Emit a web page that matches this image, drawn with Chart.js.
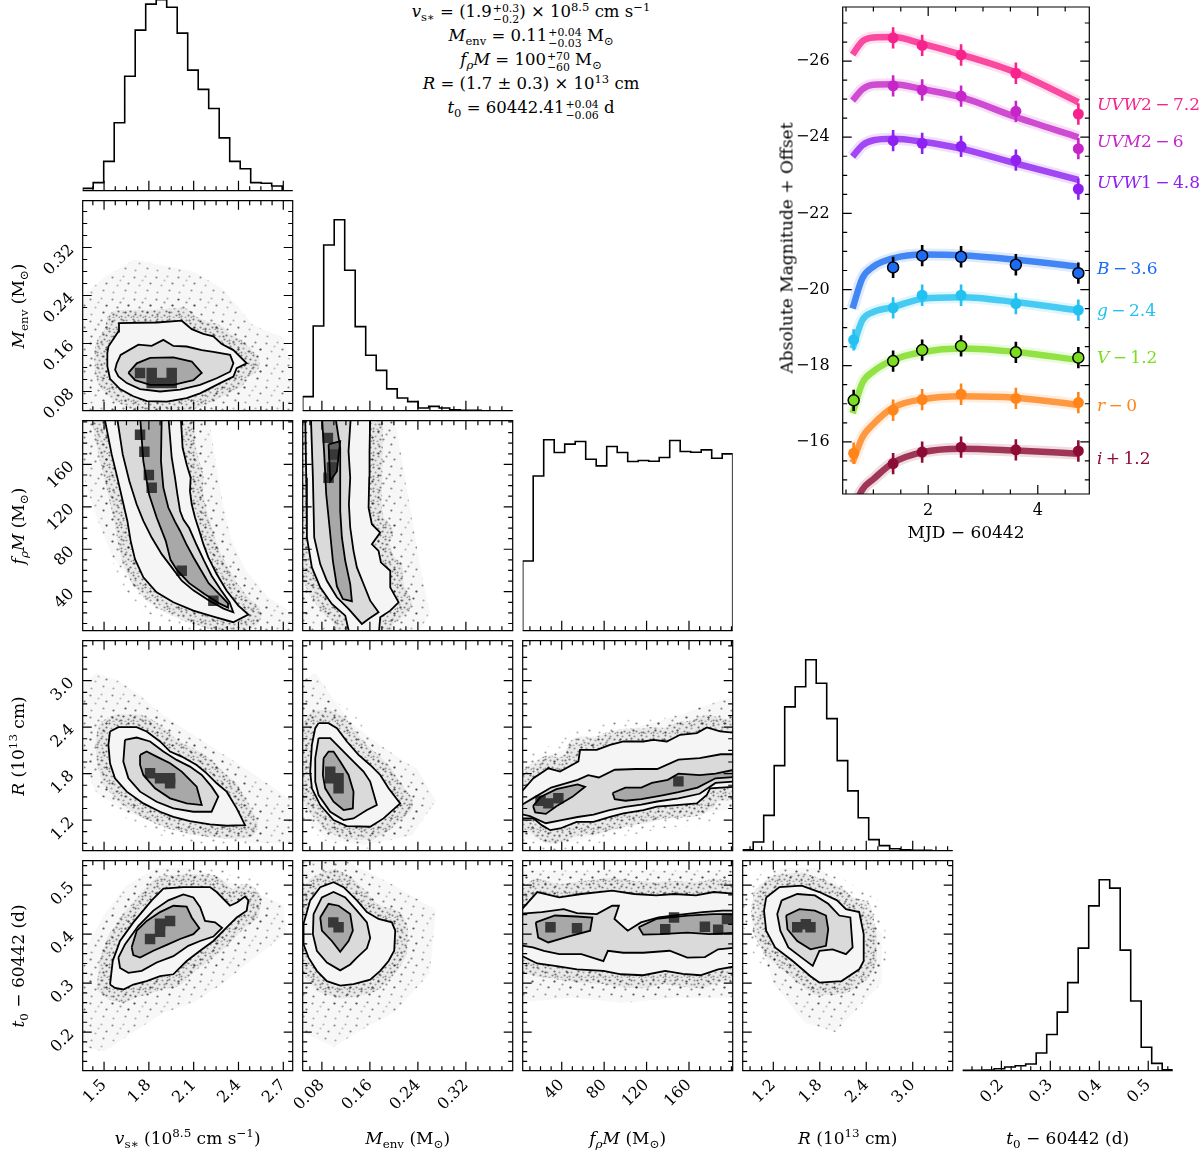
<!DOCTYPE html>
<html>
<head>
<meta charset="utf-8">
<title>Corner plot</title>
<script src="https://cdn.jsdelivr.net/npm/chart.js@4.4.1/dist/chart.umd.min.js"></script>
<style>
  html, body { margin: 0; padding: 0; background: #fff; }
  body { position: relative; width: 1200px; height: 1151px; overflow: hidden; font-family: 'DejaVu Serif', serif; color: #000; }
  canvas { position: absolute; }
  .lab { position: absolute; white-space: nowrap; font-size: 17px; line-height: 1; transform: translate(-50%, -50%); }
  .rot { transform: translate(-50%, -50%) rotate(-90deg); }
  sub, sup { font-size: 0.7em; line-height: 0; }
  .band { position: absolute; left: 1097px; font-size: 17px; white-space: nowrap; transform: translateY(-50%); line-height: 1; }
  .stats { position: absolute; left: 531px; top: 0; transform: translateX(-50%); text-align: center; font-size: 16.5px; }
  .stats div { height: 24px; line-height: 24px; white-space: nowrap; }
  .err { display: inline-flex; flex-direction: column; font-size: 0.66em; line-height: 1; vertical-align: 5px; margin-left: 1px; text-align: left; }
</style>
</head>
<body>
<div class="stats">
  <div><i>v</i><sub>s∗</sub> = (1.9<span class="err"><span>+0.3</span><span>−0.2</span></span>) × 10<sup>8.5</sup> cm s<sup>−1</sup></div>
  <div><i>M</i><sub>env</sub> = 0.11<span class="err"><span>+0.04</span><span>−0.03</span></span> M<sub>⊙</sub></div>
  <div><i>f</i><sub><i>ρ</i></sub><i>M</i> = 100<span class="err"><span>+70</span><span>−60</span></span> M<sub>⊙</sub></div>
  <div><i>R</i> = (1.7 ± 0.3) × 10<sup>13</sup> cm</div>
  <div><i>t</i><sub>0</sub> = 60442.41<span class="err"><span>+0.04</span><span>−0.06</span></span> d</div>
</div>
<script>
// ---------------- parameter ranges and ticks ----------------
const vRange = [1.357, 2.763];
const mRange = [0.048, 0.398];
const fRange = [3.2, 201.2];
const rRange = [0.805, 3.516];
const tRange = [0.121, 0.55];

const vTicks = [1.5, 1.8, 2.1, 2.4, 2.7];
const mTicks = [0.08, 0.16, 0.24, 0.32];
const fTicks = [40, 80, 120, 160];
const rTicks = [1.2, 1.8, 2.4, 3.0];
const tTicks = [0.2, 0.3, 0.4, 0.5];

// ---------------- 1D histograms (20 bins over each range) ----------------
const vHist = [7, 24, 87, 202, 340, 477, 554, 567, 545, 468, 358, 301, 244, 157, 87, 65, 24, 22, 14, 0];
const mHist = [42, 252, 493, 568, 418, 250, 165, 120, 65, 38, 27, 8, 13, 8, 3, 1, 1, 0, 0, 0];
const fHist = [208, 462, 570, 532, 557, 565, 512, 492, 550, 532, 505, 508, 506, 517, 568, 535, 533, 540, 515, 528];
const rHist = [3, 26, 105, 253, 428, 488, 568, 498, 393, 268, 178, 98, 33, 15, 6, 3, 1, 1, 0, 0];
const tHist = [1, 1, 2, 6, 11, 15, 20, 53, 108, 175, 263, 366, 492, 570, 545, 360, 208, 70, 22, 3];

// ---------------- 2D panels: sample cloud, contours, densest cells ----------------
// v_s* vs M_env
const vmHalo = [[1.36,0.048],[1.36,0.24],[1.5,0.27],[1.7,0.30],[1.9,0.29],[2.1,0.28],[2.3,0.25],[2.5,0.19],[2.7,0.17],[2.76,0.12],[2.76,0.048]];
const vmOuter = [[1.522,0.144],[1.529,0.155],[1.596,0.180],[1.600,0.194],[1.852,0.195],[2.020,0.198],[2.087,0.184],[2.165,0.176],[2.232,0.172],[2.288,0.159],[2.366,0.149],[2.455,0.127],[2.388,0.119],[2.366,0.105],[2.277,0.094],[2.143,0.077],[2.053,0.069],[1.920,0.063],[1.786,0.064],[1.696,0.072],[1.607,0.084],[1.540,0.101],[1.522,0.122]];
const vmMid = [[1.585,0.127],[1.611,0.141],[1.730,0.158],[1.819,0.156],[1.897,0.166],[1.964,0.156],[2.053,0.155],[2.154,0.149],[2.232,0.146],[2.344,0.141],[2.366,0.127],[2.344,0.113],[2.254,0.102],[2.143,0.091],[2.009,0.083],[1.875,0.080],[1.741,0.084],[1.652,0.094],[1.596,0.105],[1.574,0.116]];
const vmInner = [[1.663,0.111],[1.719,0.127],[1.808,0.136],[1.964,0.137],[2.087,0.130],[2.154,0.111],[2.098,0.099],[1.964,0.091],[1.808,0.091],[1.708,0.099]];
const vmCore = [[1.741,0.111],[1.819,0.111],[1.953,0.111],[1.819,0.094],[1.886,0.094],[1.953,0.094]];

// v_s* vs f_rho M
const vfHalo = [[1.36,206],[1.36,150],[1.45,110],[1.55,75],[1.7,45],[1.9,25],[2.1,10],[2.3,0],[2.76,0],[2.76,20],[2.6,35],[2.45,60],[2.35,90],[2.3,120],[2.25,160],[2.2,206]];
const vfOuter = [[1.500,206],[1.551,169.4],[1.589,147.5],[1.625,125.5],[1.656,106.7],[1.678,87.9],[1.707,70.7],[1.763,53.5],[1.852,39.4],[1.964,30.0],[2.098,22.1],[2.232,16.5],[2.365,11.2],[2.466,18.4],[2.399,26.8],[2.321,40.9],[2.254,56.6],[2.198,72.3],[2.165,84.8],[2.138,97.3],[2.109,109.9],[2.087,122.4],[2.075,134.9],[2.080,147.5],[2.053,160.0],[2.026,175.7],[2.013,206]];
const vfMid = [[1.585,206],[1.625,169.4],[1.669,144.3],[1.718,122.4],[1.763,106.7],[1.819,91.0],[1.886,75.4],[1.953,62.9],[2.020,50.3],[2.10,41],[2.20,32],[2.30,24],[2.365,20.6],[2.34,30],[2.28,42],[2.22,55],[2.17,69],[2.12,84],[2.07,100],[2.031,108],[2.009,116.1],[1.991,131.8],[1.975,147.5],[1.953,166.3],[1.930,206]];
const vfInner = [[1.741,206],[1.763,163.1],[1.801,131.8],[1.852,109.9],[1.913,87.9],[1.945,70],[1.99,60],[2.07,48],[2.17,38],[2.27,29],[2.33,25],[2.33,29],[2.27,38],[2.2,48],[2.15,60],[2.1,72],[2.05,85],[2.01,97],[1.975,106],[1.930,119.3],[1.897,138.1],[1.881,163.1],[1.886,206]];
const vfCore = [[1.741,188],[1.77,172],[1.80,150],[1.819,138],[2.02,59.7],[2.232,31.5]];

// M_env vs f_rho M
const mfHalo = [[0.046,206],[0.046,0],[0.24,0],[0.26,20],[0.245,60],[0.23,110],[0.215,160],[0.2,206]];
const mfOuter = [[0.0522,206],[0.0539,147.5],[0.0550,91.1],[0.0633,62.9],[0.0772,44.1],[0.0966,28.4],[0.1189,17.4],[0.1272,-3],[0.1744,-3],[0.1772,15.9],[0.1939,22.1],[0.2078,30.0],[0.1939,44.1],[0.1939,59.7],[0.1783,67.6],[0.1744,78.5],[0.1633,84.8],[0.1772,95.8],[0.1633,103.6],[0.1578,119.3],[0.1589,147.5],[0.1594,172.5],[0.1605,206]];
const mfMid = [[0.0616,206],[0.0650,147.5],[0.0672,91.1],[0.0772,66.0],[0.0883,50.3],[0.1050,34.7],[0.1244,23.7],[0.1466,9.6],[0.1577,14.3],[0.1744,20.6],[0.1605,31.5],[0.1494,47.2],[0.1383,62.9],[0.1327,78.5],[0.1272,100.5],[0.1250,122.4],[0.1272,147.5],[0.1244,172.5],[0.1283,206]];
const mfInner = [[0.0800,206],[0.0839,169.4],[0.0872,131.8],[0.0928,100.5],[0.0983,69.1],[0.1050,45],[0.115,33],[0.13,31],[0.1272,47.2],[0.1189,69.1],[0.1133,91.1],[0.1105,116.1],[0.1105,147.5],[0.1105,175.7],[0.1022,206]];
const mfInmost = [[0.0911,178.8],[0.1105,181.9],[0.1050,153.6],[0.0939,144.3]];
const mfCore = [[0.0911,147.5],[0.0967,157],[0.0994,169.4],[0.09,185]];

// v_s* vs R
const vrHalo = [[1.36,1.9],[1.36,2.95],[1.45,3.1],[1.6,3.0],[1.75,2.8],[1.9,2.55],[2.1,2.3],[2.3,2.05],[2.5,1.8],[2.76,1.45],[2.76,0.9],[2.5,0.9],[2.2,1.0],[1.9,1.12],[1.65,1.3],[1.45,1.55]];
const vrOuter = [[1.540,2.344],[1.596,2.400],[1.718,2.400],[1.785,2.344],[1.875,2.215],[1.942,2.085],[2.020,2.020],[2.120,1.912],[2.187,1.804],[2.254,1.675],[2.321,1.567],[2.388,1.351],[2.444,1.135],[2.321,1.127],[2.209,1.144],[2.075,1.187],[1.964,1.243],[1.875,1.308],[1.763,1.416],[1.652,1.567],[1.573,1.740],[1.540,1.934],[1.529,2.171]];
const vrMid = [[1.640,2.236],[1.718,2.266],[1.808,2.215],[1.897,2.085],[1.986,1.977],[2.075,1.891],[2.154,1.783],[2.220,1.632],[2.265,1.502],[2.220,1.308],[2.098,1.308],[1.964,1.351],[1.852,1.437],[1.741,1.567],[1.663,1.740],[1.629,1.956]];
const vrInner = [[1.741,2.042],[1.785,2.085],[1.852,2.020],[1.942,1.934],[2.020,1.826],[2.120,1.632],[2.154,1.394],[2.053,1.416],[1.942,1.481],[1.841,1.610],[1.763,1.783],[1.741,1.912]];
const vrCore = [[1.808,1.805],[1.875,1.740],[1.942,1.675],[1.942,1.74]];

// M_env vs R
const mrHalo = [[0.046,1.4],[0.046,3.0],[0.07,3.1],[0.1,2.75],[0.13,2.45],[0.18,2.15],[0.24,1.85],[0.27,1.45],[0.23,1.0],[0.15,0.88],[0.09,0.95],[0.06,1.15]];
const mrOuter = [[0.0744,2.452],[0.0911,2.452],[0.1050,2.387],[0.1216,2.215],[0.1411,2.042],[0.1605,1.912],[0.1772,1.783],[0.1911,1.610],[0.2105,1.416],[0.1827,1.222],[0.1605,1.114],[0.1216,1.122],[0.0994,1.200],[0.0772,1.394],[0.0633,1.610],[0.0605,1.826],[0.0633,2.171],[0.0689,2.387]];
const mrMid = [[0.0744,2.258],[0.0939,2.258],[0.1133,2.107],[0.1327,1.956],[0.1494,1.826],[0.1605,1.697],[0.1716,1.394],[0.1550,1.330],[0.1327,1.222],[0.1161,1.200],[0.0939,1.308],[0.0744,1.524],[0.0689,1.697],[0.0689,1.999]];
const mrInner = [[0.0828,1.999],[0.0911,2.085],[0.0994,2.085],[0.1105,1.956],[0.1244,1.783],[0.1327,1.567],[0.1316,1.351],[0.1161,1.330],[0.0994,1.437],[0.0855,1.610],[0.0816,1.783]];
const mrCore = [[0.0939,1.826],[0.1078,1.740],[0.1078,1.610],[0.0939,1.74]];

// f_rho M vs R
const frHalo = [[-2,1.0],[-2,1.75],[30,2.05],[70,2.25],[110,2.4],[150,2.55],[190,2.75],[206,2.8],[206,1.35],[150,1.25],[100,1.1],[60,0.95],[30,0.88]];
const frOuter = [[-2,1.502],[13.3,1.740],[27.4,1.869],[38.4,1.826],[55.7,1.956],[57.3,2.107],[73.0,2.107],[85.6,2.171],[98.2,2.215],[117.0,2.215],[126.5,2.236],[139.1,2.215],[151.6,2.301],[167.4,2.323],[176.8,2.396],[189.4,2.344],[206,2.323],[206,1.632],[179.9,1.610],[176.8,1.524],[167.4,1.416],[148.5,1.394],[129.6,1.373],[117.0,1.330],[98.2,1.286],[85.6,1.243],[69.9,1.178],[54.1,1.178],[38.4,1.092],[29.2,1.070],[21.1,1.135],[13.3,1.222],[-2,1.222]];
const frMid = [[-2,1.36],[15,1.5],[30,1.62],[55,1.72],[65,1.78],[75,1.75],[90,1.85],[110,1.86],[130,1.86],[150,1.98],[170,2.0],[190,2.05],[206,2.05],[206,1.70],[185,1.68],[170,1.54],[150,1.48],[130,1.44],[115,1.40],[100,1.37],[85,1.33],[70,1.27],[55,1.24],[40,1.2],[25,1.16],[10,1.25],[-2,1.29]];
const frInnerA = [[13,1.38],[20,1.5],[35,1.6],[55,1.66],[62,1.63],[50,1.5],[35,1.38],[25,1.28],[15,1.3]];
const frInnerB = [[88,1.55],[100,1.62],[115,1.62],[125,1.68],[140,1.72],[150,1.8],[170,1.78],[185,1.8],[206,1.86],[206,1.76],[185,1.74],[168,1.62],[150,1.56],[135,1.52],[115,1.47],[100,1.45],[90,1.47]];
const frCore = [[20,1.45],[27.4,1.416],[36.8,1.481],[150,1.7]];

// v_s* vs t0
const vtHalo = [[1.36,0.17],[1.36,0.36],[1.5,0.44],[1.65,0.5],[1.85,0.535],[2.1,0.535],[2.4,0.5],[2.7,0.46],[2.72,0.4],[2.5,0.35],[2.3,0.3],[2.1,0.26],[1.9,0.24],[1.7,0.2],[1.5,0.16]];
const vtOuter = [[1.540,0.297],[1.558,0.345],[1.607,0.386],[1.696,0.424],[1.819,0.469],[1.897,0.493],[2.031,0.496],[2.209,0.496],[2.254,0.486],[2.343,0.458],[2.392,0.465],[2.444,0.477],[2.466,0.469],[2.455,0.448],[2.388,0.434],[2.321,0.414],[2.232,0.386],[2.143,0.366],[2.053,0.345],[1.964,0.318],[1.875,0.314],[1.785,0.304],[1.696,0.297],[1.629,0.287],[1.573,0.290]];
const vtMid = [[1.596,0.352],[1.640,0.379],[1.730,0.417],[1.830,0.448],[1.930,0.469],[2.031,0.481],[2.098,0.475],[2.143,0.455],[2.176,0.427],[2.243,0.424],[2.29,0.413],[2.232,0.395],[2.143,0.386],[2.064,0.376],[1.964,0.355],[1.852,0.342],[1.752,0.325],[1.663,0.321],[1.607,0.331]];
const vtInner = [[1.685,0.373],[1.719,0.407],[1.786,0.427],[1.875,0.445],[1.964,0.458],[2.053,0.456],[2.087,0.434],[2.138,0.412],[2.098,0.400],[2.009,0.390],[1.920,0.378],[1.830,0.366],[1.741,0.352],[1.696,0.357]];
const vtCore = [[1.808,0.390],[1.875,0.421],[1.942,0.427],[1.875,0.405]];

// M_env vs t0
const mtHalo = [[0.046,0.2],[0.046,0.55],[0.12,0.55],[0.2,0.5],[0.27,0.45],[0.26,0.32],[0.2,0.24],[0.14,0.2],[0.1,0.17]];
const mtOuter = [[0.0494,0.421],[0.0605,0.469],[0.0772,0.496],[0.0994,0.506],[0.1161,0.496],[0.1383,0.469],[0.1550,0.445],[0.1744,0.431],[0.1966,0.424],[0.2022,0.407],[0.2005,0.366],[0.1911,0.345],[0.1772,0.325],[0.1605,0.307],[0.1327,0.298],[0.1105,0.295],[0.0883,0.304],[0.0716,0.325],[0.0578,0.352],[0.0494,0.379]];
const mtMid = [[0.0661,0.441],[0.0800,0.475],[0.0994,0.486],[0.1189,0.475],[0.1383,0.448],[0.1550,0.424],[0.1605,0.392],[0.1550,0.371],[0.1383,0.352],[0.1272,0.338],[0.1105,0.326],[0.0883,0.342],[0.0716,0.366],[0.0650,0.400]];
const mtInner = [[0.0772,0.434],[0.0911,0.462],[0.1078,0.458],[0.1272,0.441],[0.1316,0.407],[0.1244,0.386],[0.1105,0.364],[0.0966,0.386],[0.0800,0.407]];
const mtCore = [[0.1078,0.414],[0.0990,0.424]];

// f_rho M vs t0
const ftHalo = [[-2,0.26],[-2,0.53],[206,0.53],[206,0.27],[150,0.27],[100,0.26],[50,0.27]];
const ftOuter = [[-2,0.44],[16.9,0.486],[37.7,0.475],[58.5,0.482],[87.6,0.489],[108.4,0.482],[129.2,0.479],[145.9,0.482],[166.7,0.479],[183.3,0.486],[206,0.482],[206,0.335],[187.5,0.328],[170.8,0.316],[154.2,0.319],[137.6,0.325],[116.8,0.316],[96.0,0.318],[79.3,0.325],[54.4,0.328],[33.6,0.335],[16.9,0.340],[-2,0.36]];
const ftMid = [[-2,0.441],[21.1,0.445],[41.9,0.451],[54.4,0.443],[73.1,0.441],[87.6,0.458],[93.9,0.458],[89.7,0.431],[102.2,0.407],[114.7,0.424],[131.3,0.434],[152.1,0.440],[172.9,0.445],[191.6,0.448],[206,0.448],[206,0.373],[187.5,0.369],[175.0,0.353],[158.4,0.352],[141.7,0.366],[116.8,0.362],[98.1,0.362],[83.5,0.366],[79.3,0.345],[58.5,0.359],[37.7,0.359],[23.2,0.366],[12.8,0.373],[-2,0.378]];
const ftInnerA = [[15.5,0.424],[33.6,0.438],[54.4,0.436],[68.9,0.434],[66.8,0.407],[46.0,0.395],[27.3,0.383],[17.8,0.393]];
const ftInnerB = [[112.6,0.414],[129.2,0.431],[158.4,0.438],[183.3,0.441],[206,0.441],[206,0.403],[179.2,0.400],[158.4,0.403],[133.4,0.400],[116.8,0.399]];
const ftCore = [[29.4,0.414],[54.4,0.412],[145.9,0.434],[137.6,0.410],[175,0.415],[195.8,0.431],[187.5,0.409]];

// R vs t0
const rtHalo = [[1.0,0.4],[1.0,0.5],[1.3,0.535],[1.8,0.535],[2.2,0.48],[2.6,0.4],[2.6,0.3],[2.3,0.25],[2.0,0.2],[1.6,0.22],[1.2,0.3]];
const rtOuter = [[1.108,0.475],[1.280,0.496],[1.566,0.499],[1.795,0.486],[2.023,0.469],[2.138,0.451],[2.309,0.445],[2.367,0.400],[2.367,0.345],[2.309,0.328],[2.081,0.304],[1.795,0.301],[1.680,0.314],[1.451,0.345],[1.223,0.373],[1.108,0.407],[1.080,0.448]];
const rtMid = [[1.308,0.469],[1.509,0.482],[1.737,0.479],[1.909,0.462],[2.052,0.438],[2.195,0.434],[2.224,0.373],[2.138,0.359],[1.966,0.369],[1.795,0.366],[1.709,0.335],[1.566,0.352],[1.394,0.373],[1.291,0.407],[1.251,0.441]];
const rtInner = [[1.366,0.438],[1.537,0.451],[1.737,0.448],[1.880,0.438],[1.909,0.410],[1.880,0.376],[1.680,0.369],[1.509,0.386],[1.383,0.410]];
const rtCore = [[1.509,0.414],[1.680,0.414],[1.62,0.42]];

// ---------------- light curves ----------------
const lcTimes = [0.64, 1.36, 1.89, 2.6, 3.6, 4.74];
const uvw2Mag = [null, -26.61, -26.41, -26.16, -25.68, -24.61];
const uvm2Mag = [null, -25.35, -25.24, -25.08, -24.68, -23.70];
const uvw1Mag = [null, -23.91, -23.84, -23.76, -23.40, -22.64];
const bMag = [null, -20.58, -20.89, -20.86, -20.65, -20.43];
const gMag = [-18.68, -19.52, -19.85, -19.85, -19.63, -19.46];
const vMag = [-17.09, -18.12, -18.41, -18.52, -18.35, -18.21];
const rMag = [-15.70, -16.83, -17.11, -17.25, -17.14, -17.03];
const iMag = [null, -15.43, -15.73, -15.86, -15.79, -15.76];
const magErr = 0.28;

const modelTimes = [0.62, 0.8, 1.0, 1.36, 1.9, 2.6, 3.6, 4.74];
const uvw2Model = [-26.17, -26.52, -26.62, -26.63, -26.45, -26.17, -25.70, -24.92];
const uvm2Model = [-24.96, -25.26, -25.38, -25.39, -25.26, -25.05, -24.53, -24.00];
const uvw1Model = [-23.49, -23.79, -23.92, -23.96, -23.88, -23.70, -23.31, -22.88];
const bModel = [-19.50, -20.30, -20.60, -20.82, -20.92, -20.90, -20.78, -20.60];
const gModel = [-18.45, -19.20, -19.41, -19.54, -19.76, -19.80, -19.67, -19.45];
const vModel = [-16.75, -17.55, -17.85, -18.15, -18.36, -18.45, -18.36, -18.15];
const rModel = [-15.45, -16.12, -16.47, -16.90, -17.12, -17.20, -17.16, -16.97];
const iModel = [-14.20, -14.75, -15.02, -15.45, -15.73, -15.82, -15.77, -15.69];

const bandNames = ['UVW2', 'UVM2', 'UVW1', 'B', 'g', 'V', 'r', 'i'];
const bandColors = ['#f7238c', '#c626c9', '#8e21f2', '#1b6cf2', '#22c1f1', '#7bdd1f', '#ff841a', '#8c0c35'];
const bandLabels = ['<i>UVW</i>2\u2009−\u20097.2', '<i>UVM</i>2\u2009−\u20096', '<i>UVW</i>1\u2009−\u20094.8', '<i>B</i>\u2009−\u20093.6',
  '<i>g</i>\u2009−\u20092.4', '<i>V</i>\u2009−\u20091.2', '<i>r</i>\u2009−\u20090', '<i>i</i>\u2009+\u20091.2'];
const bandLabelY = [104, 141, 182, 268, 310, 357, 405, 458];

// ---------------- layout of the grid ----------------
const colL = [82.7, 302.7, 522.7, 742.7, 962.7];
const rowT = [-19.3, 200.7, 420.7, 640.7, 860.7];
const S = 210;

const params = [
  { range: vRange, ticks: vTicks, minor: 0.075, dp: 1, hist: vHist },
  { range: mRange, ticks: mTicks, minor: 0.02, dp: 2, hist: mHist },
  { range: fRange, ticks: fTicks, minor: 10, dp: 0, hist: fHist },
  { range: rRange, ticks: rTicks, minor: 0.15, dp: 1, hist: rHist },
  { range: tRange, ticks: tTicks, minor: 0.02, dp: 1, hist: tHist },
];

const colTitles = [
  '<i>v</i><sub>s∗</sub> (10<sup>8.5</sup> cm s<sup>−1</sup>)',
  '<i>M</i><sub>env</sub> (M<sub>⊙</sub>)',
  '<i>f</i><sub><i>ρ</i></sub><i>M</i> (M<sub>⊙</sub>)',
  '<i>R</i> (10<sup>13</sup> cm)',
  '<i>t</i><sub>0</sub> − 60442 (d)',
];

Chart.defaults.font.family = "'DejaVu Serif', serif";
Chart.defaults.color = '#000';
Chart.defaults.animation = false;
Chart.defaults.plugins.legend.display = false;
Chart.defaults.plugins.tooltip.enabled = false;

// dot textures for the scattered samples outside the contours
function dotTile(size, dots, rad) {
  const cv = document.createElement('canvas');
  cv.width = size; cv.height = size;
  const h = cv.getContext('2d');
  dots.forEach(([x, y, a]) => {
    h.fillStyle = 'rgba(30,30,30,' + a + ')';
    h.beginPath(); h.arc(x + 0.5, y + 0.5, rad, 0, Math.PI * 2); h.fill();
  });
  return cv;
}
const sparseTile = dotTile(22, [[2,3,.5],[13,2,.3],[18,9,.55],[7,11,.3],[15,16,.45],[3,18,.35],[10,6,.25]], 1.1);
const denseTile = dotTile(12, [[1,1,.55],[6,2,.4],[10,5,.6],[3,6,.35],[8,9,.5],[1,10,.45],[5,11,.3],[11,11,.4]], 1.1);

const pts = arr => arr.map(p => ({ x: p[0], y: p[1] }));
const ring = arr => pts(arr.concat([arr[0]]));

// fills polygons (dataset.polyFill) under everything else
const polyFill = {
  id: 'polyFill',
  beforeDatasetsDraw(chart) {
    const { ctx, chartArea: a, scales: { x, y } } = chart;
    ctx.save();
    ctx.beginPath(); ctx.rect(a.left, a.top, a.right - a.left, a.bottom - a.top); ctx.clip();
    chart.data.datasets.forEach(ds => {
      if (!ds.polyFill) return;
      ctx.beginPath();
      ds.data.forEach((p, i) => {
        const px = x.getPixelForValue(p.x), py = y.getPixelForValue(p.y);
        if (i) ctx.lineTo(px, py); else ctx.moveTo(px, py);
      });
      ctx.closePath();
      if (ds.polyFill === 'halo') {
        ctx.fillStyle = 'rgba(0,0,0,0.03)'; ctx.fill();
        ctx.fillStyle = ctx.createPattern(sparseTile, 'repeat'); ctx.fill();
        return;
      }
      if (ds.edge) {
        ctx.lineJoin = 'round';
        ctx.strokeStyle = ctx.createPattern(sparseTile, 'repeat'); ctx.lineWidth = 44; ctx.stroke();
        ctx.strokeStyle = 'rgba(0,0,0,0.06)'; ctx.lineWidth = 26; ctx.stroke();
        ctx.strokeStyle = ctx.createPattern(denseTile, 'repeat'); ctx.lineWidth = 26; ctx.stroke();
      }
      ctx.fillStyle = ds.polyFill;
      ctx.fill();
    });
    ctx.restore();
  }
};

// frame and inward ticks on the chosen sides
const frameTicks = {
  id: 'frameTicks',
  afterDraw(chart, args, o) {
    const { ctx, chartArea: a, scales: { x, y } } = chart;
    ctx.save();
    ctx.strokeStyle = '#000'; ctx.lineWidth = 1.2;
    ctx.beginPath();
    if (o.frame) ctx.rect(a.left, a.top, a.right - a.left, a.bottom - a.top);
    else { ctx.moveTo(a.left, a.bottom); ctx.lineTo(a.right, a.bottom); }
    ctx.stroke();
    const marks = (scale, major, step) => {
      const out = major.map(v => [v, o.major]);
      const lo = Math.min(scale.min, scale.max), hi = Math.max(scale.min, scale.max);
      for (let k = Math.ceil(lo / step - 1e-9); k * step <= hi + 1e-9; k++) {
        const v = k * step;
        if (!major.some(m => Math.abs(m - v) < step * 0.01)) out.push([v, o.minor]);
      }
      return out;
    };
    ctx.beginPath();
    if (o.xt) marks(x, o.xt, o.xm).forEach(([v, len]) => {
      const px = x.getPixelForValue(v);
      if (px < a.left - 0.5 || px > a.right + 0.5) return;
      ctx.moveTo(px, a.bottom); ctx.lineTo(px, a.bottom - len);
      if (o.frame) { ctx.moveTo(px, a.top); ctx.lineTo(px, a.top + len); }
    });
    if (o.yt) marks(y, o.yt, o.ym).forEach(([v, len]) => {
      const py = y.getPixelForValue(v);
      if (py < a.top - 0.5 || py > a.bottom + 0.5) return;
      ctx.moveTo(a.left, py); ctx.lineTo(a.left + len, py);
      ctx.moveTo(a.right, py); ctx.lineTo(a.right - len, py);
    });
    ctx.stroke();
    ctx.restore();
  }
};

// vertical error bars drawn just before their markers
const errBars = {
  id: 'errBars',
  beforeDatasetDraw(chart, args) {
    const ds = chart.data.datasets[args.index];
    if (!ds.errBar) return;
    const { ctx, scales: { x, y } } = chart;
    ctx.save();
    ctx.strokeStyle = ds.errColor; ctx.lineWidth = 2.6;
    ctx.beginPath();
    ds.data.forEach(p => {
      const px = x.getPixelForValue(p.x);
      ctx.moveTo(px, y.getPixelForValue(p.y - ds.errBar));
      ctx.lineTo(px, y.getPixelForValue(p.y + ds.errBar));
    });
    ctx.stroke();
    ctx.restore();
  }
};

function axisCfg(p, show, dir, size, fontSize, rot, pad) {
  return {
    type: 'linear', position: dir === 'x' ? 'bottom' : 'left',
    min: p.range[0], max: p.range[1], reverse: !!p.reverse, display: show,
    grid: { display: false, drawTicks: false }, border: { display: false },
    ticks: {
      autoSkip: false, minRotation: rot, maxRotation: rot, padding: pad,
      font: { size: fontSize }, color: '#000',
      callback: v => (v < 0 ? '−' + Math.abs(v).toFixed(p.dp) : v.toFixed(p.dp))
    },
    afterBuildTicks: s => { s.ticks = p.ticks.map(v => ({ value: v })); },
    afterFit: s => {
      if (!show) return;
      if (dir === 'x') { s.height = size; s.paddingLeft = 0; s.paddingRight = 0; }
      else { s.width = size; s.paddingTop = 0; s.paddingBottom = 0; }
    }
  };
}

function makeCanvas(x0, y0, w, h) {
  const cv = document.createElement('canvas');
  cv.width = w; cv.height = h;
  cv.style.left = x0 + 'px'; cv.style.top = y0 + 'px';
  cv.style.width = w + 'px'; cv.style.height = h + 'px';
  document.body.appendChild(cv);
  return cv;
}

function makePanel(r, c, datasets, hist) {
  const showX = r === 4, showY = c === 0 && r > 0;
  const left = colL[c], top = rowT[r];
  const x0 = c === 0 ? 0 : Math.floor(left - 14);
  const y0 = Math.floor(top - 14);
  const x1 = Math.ceil(left + S + 14);
  const y1 = r === 4 ? 1151 : Math.ceil(top + S + 14);
  const cv = makeCanvas(x0, y0, x1 - x0, y1 - y0);
  const padL = left - x0, padT = top - y0, padR = x1 - left - S, padB = y1 - top - S;
  const px = params[c];
  const yAxis = hist
    ? { type: 'linear', display: false, min: 0, max: 1.1 * Math.max(...px.hist) }
    : axisCfg(params[r], showY, 'y', padL, 16, 45, 11);
  new Chart(cv, {
    type: 'scatter',
    data: { datasets },
    options: {
      responsive: false, events: [],
      layout: { padding: { left: showY ? 0 : padL, top: padT, right: padR, bottom: showX ? 0 : padB } },
      scales: { x: axisCfg(px, showX, 'x', padB, 16, 45, 5), y: yAxis },
      plugins: {
        frameTicks: {
          frame: !hist, major: hist ? 10 : 9, minor: 4.5,
          xt: px.ticks, xm: px.minor,
          yt: hist ? null : params[r].ticks, ym: hist ? null : params[r].minor
        }
      }
    },
    plugins: [polyFill, errBars, frameTicks]
  });
}

// ---- diagonal histograms ----
params.forEach((p, k) => {
  const w = (p.range[1] - p.range[0]) / p.hist.length;
  const outline = [[p.range[0], 0]];
  p.hist.forEach((h, i) => {
    outline.push([p.range[0] + i * w, h]);
    outline.push([p.range[0] + (i + 1) * w, h]);
  });
  outline.push([p.range[1], 0]);
  makePanel(k, k, [{
    data: pts(outline), showLine: true, borderColor: '#000', borderWidth: 1.6,
    pointRadius: 0, fill: false
  }], true);
});

// ---- 2D panels ----
const levelFill = ['#f5f5f5', '#dadada', '#a8a8a8', '#606060'];
const pairs = [
  { r: 1, c: 0, halo: vmHalo, levels: [[vmOuter], [vmMid], [vmInner]], core: vmCore },
  { r: 2, c: 0, halo: vfHalo, levels: [[vfOuter], [vfMid], [vfInner]], core: vfCore },
  { r: 2, c: 1, halo: mfHalo, levels: [[mfOuter], [mfMid], [mfInner], [mfInmost]], core: mfCore },
  { r: 3, c: 0, halo: vrHalo, levels: [[vrOuter], [vrMid], [vrInner]], core: vrCore },
  { r: 3, c: 1, halo: mrHalo, levels: [[mrOuter], [mrMid], [mrInner]], core: mrCore },
  { r: 3, c: 2, halo: frHalo, levels: [[frOuter], [frMid], [frInnerA, frInnerB]], core: frCore },
  { r: 4, c: 0, halo: vtHalo, levels: [[vtOuter], [vtMid], [vtInner]], core: vtCore },
  { r: 4, c: 1, halo: mtHalo, levels: [[mtOuter], [mtMid], [mtInner]], core: mtCore },
  { r: 4, c: 2, halo: ftHalo, levels: [[ftOuter], [ftMid], [ftInnerA, ftInnerB]], core: ftCore },
  { r: 4, c: 3, halo: rtHalo, levels: [[rtOuter], [rtMid], [rtInner]], core: rtCore },
];

pairs.forEach(pr => {
  const ds = [];
  ds.push({ data: pts(pr.halo), polyFill: 'halo', pointRadius: 0, showLine: false, order: 50 });
  pr.levels.forEach((polys, li) => polys.forEach(poly => {
    ds.push({ data: ring(poly), polyFill: levelFill[li], edge: li === 0, showLine: true, borderColor: '#000',
      borderWidth: 1.8, pointRadius: 0, fill: false, order: 10 - li });
  }));
  ds.push({ data: pts(pr.core), pointStyle: 'rect', pointRadius: 7.4, backgroundColor: '#383838',
    borderWidth: 0, order: 20 });
  makePanel(pr.r, pr.c, ds, false);
});

// ---- axis titles ----
function label(html, x, y, rotate, size) {
  const d = document.createElement('div');
  d.className = 'lab' + (rotate ? ' rot' : '');
  d.style.left = x + 'px'; d.style.top = y + 'px';
  if (size) d.style.fontSize = size + 'px';
  d.innerHTML = html;
  document.body.appendChild(d);
}
colTitles.forEach((t, c) => label(t, colL[c] + S / 2, 1138, false));
colTitles.forEach((t, r) => { if (r > 0) label(t, 18, rowT[r] + S / 2, true); });

// ---- light-curve inset ----
const lcX = { range: [0.44, 4.94], ticks: [2, 4], minor: 0.5, dp: 0 };
const lcY = { range: [-27.42, -14.63], ticks: [-26, -24, -22, -20, -18, -16], minor: 0.5, dp: 0, reverse: true };
const lcMags = [uvw2Mag, uvm2Mag, uvw1Mag, bMag, gMag, vMag, rMag, iMag];
const lcModels = [uvw2Model, uvm2Model, uvw1Model, bModel, gModel, vModel, rModel, iModel];
const withAlpha = (hex, a) => 'rgba(' + [1, 3, 5].map(i => parseInt(hex.slice(i, i + 2), 16)).join(',') + ',' + a + ')';

const lcSets = [];
lcModels.forEach((m, b) => {
  const line = modelTimes.map((t, i) => ({ x: t, y: m[i] }));
  lcSets.push({ data: line, showLine: true, borderColor: withAlpha(bandColors[b], 0.14), borderWidth: 12,
    pointRadius: 0, cubicInterpolationMode: 'monotone', order: 30 });
  lcSets.push({ data: line, showLine: true, borderColor: withAlpha(bandColors[b], 0.8), borderWidth: 6.5,
    pointRadius: 0, cubicInterpolationMode: 'monotone', order: 20 });
});
lcMags.forEach((m, b) => {
  const edged = bandNames[b] === 'B' || bandNames[b] === 'V';
  lcSets.push({
    data: lcTimes.map((t, i) => (m[i] === null ? null : { x: t, y: m[i] })).filter(Boolean),
    pointRadius: 5.5, backgroundColor: bandColors[b],
    borderColor: edged ? '#000' : bandColors[b], borderWidth: edged ? 1.5 : 0,
    errBar: magErr, errColor: edged ? '#000' : bandColors[b], order: 1
  });
});

const lcCv = makeCanvas(760, 0, 340, 545);
new Chart(lcCv, {
  type: 'scatter',
  data: { datasets: lcSets },
  options: {
    responsive: false, events: [],
    layout: { padding: { left: 0, top: 2, right: 10.7, bottom: 0 } },
    scales: { x: axisCfg(lcX, true, 'x', 51, 16, 0, 7), y: axisCfg(lcY, true, 'y', 82.7, 16, 0, 13) },
    plugins: { frameTicks: { frame: true, major: 9, minor: 4.5, xt: lcX.ticks, xm: 0.5, yt: lcY.ticks, ym: 0.5 } }
  },
  plugins: [errBars, frameTicks]
});

label('Absolute Magnitude + Offset', 787, 248, true, 17);
label('MJD − 60442', 966, 532, false, 17);
bandLabels.forEach((t, b) => {
  const d = document.createElement('div');
  d.className = 'band';
  d.style.top = bandLabelY[b] + 'px';
  d.style.color = bandColors[b];
  d.innerHTML = t;
  document.body.appendChild(d);
});
</script>
</body>
</html>
